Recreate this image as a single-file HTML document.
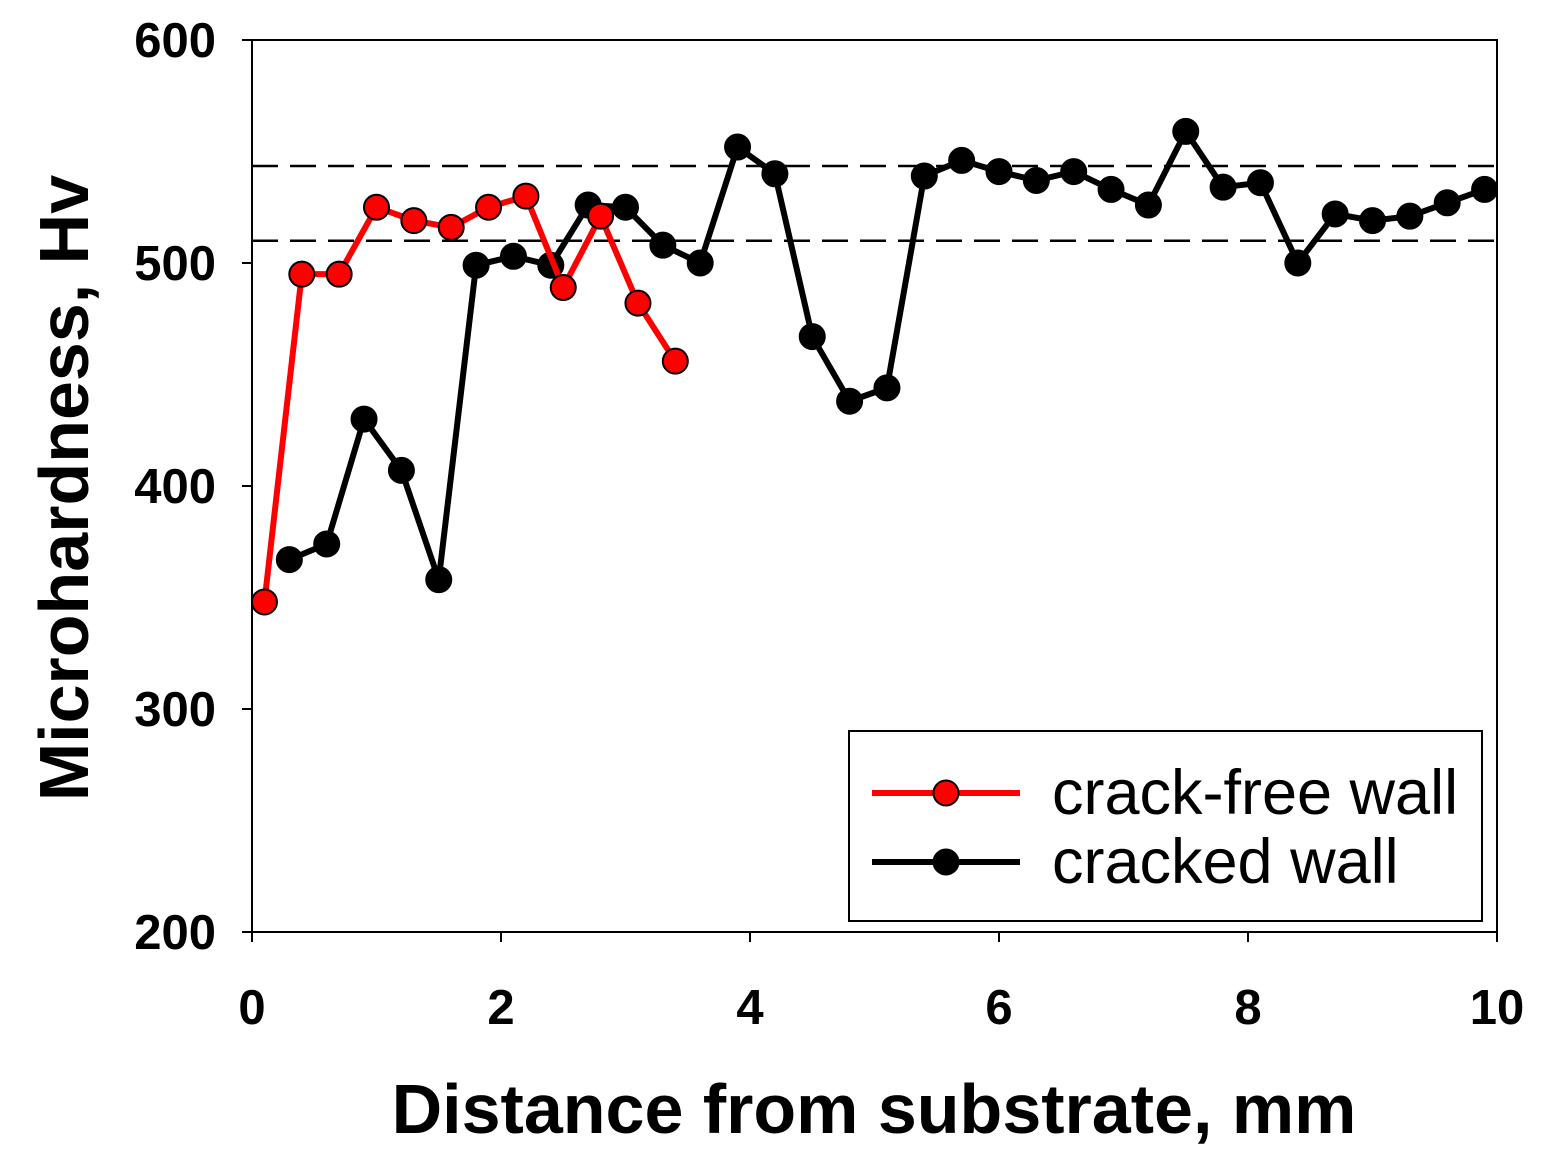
<!DOCTYPE html>
<html><head><meta charset="utf-8"><style>
html,body{margin:0;padding:0;background:#fff}
svg{display:block}
text{font-family:"Liberation Sans",Arial,sans-serif}
</style></head><body>
<svg id="chart" width="1550" height="1164" viewBox="0 0 1550 1164">
<g id="plot"></g>
</svg>
<script>
const xTicks=[0,2,4,6,8,10];
const yTicks=[200,300,400,500,600];
const redX=[0.1,0.4,0.7,1.0,1.3,1.6,1.9,2.2,2.5,2.8,3.1,3.4];
const redY=[348,495,495,525,519,516,525,530,489,521,482,456];
const blackX=[0.3,0.6,0.9,1.2,1.5,1.8,2.1,2.4,2.7,3.0,3.3,3.6,3.9,4.2,4.5,4.8,5.1,5.4,5.7,6.0,6.3,6.6,6.9,7.2,7.5,7.8,8.1,8.4,8.7,9.0,9.3,9.6,9.9];
const blackY=[367,374,430,407,358,499,503,499,526,525,508,500,552,540,467,438,444,539,546,541,537,541,533,526,559,534,536,500,522,519,521,527,533];
const refLines=[543.5,510];

const X0=252,X1=1497,Y0=932,Y1=40;
const sx=v=>X0+(v-0)/(10-0)*(X1-X0);
const sy=v=>Y0-(v-200)/(600-200)*(Y0-Y1);
const NS="http://www.w3.org/2000/svg";
const g=document.getElementById('plot');
function mk(tag,attrs,parent){const e=document.createElementNS(NS,tag);for(const k in attrs)e.setAttribute(k,attrs[k]);(parent||g).appendChild(e);return e;}

let fr=mk('rect',{x:X0,y:Y1,width:X1-X0,height:Y0-Y1,fill:'none',stroke:'#000','stroke-width':2});



refLines.forEach((v,i)=>{
 const l=mk('line',{x1:X0,x2:X1,y1:sy(v),y2:sy(v),stroke:'#000','stroke-width':2.5,'stroke-dasharray':'26,12'});
 
 
});

xTicks.forEach(v=>{
 const t=mk('line',{x1:sx(v),x2:sx(v),y1:Y0,y2:Y0+10,stroke:'#000','stroke-width':2});
 
 
 const tx=mk('text',{x:sx(v),y:Y0+92,'text-anchor':'middle','font-size':49,'font-weight':'bold'});
 tx.textContent=v;
 
 
});
yTicks.forEach(v=>{
 const t=mk('line',{x1:X0-10,x2:X0,y1:sy(v),y2:sy(v),stroke:'#000','stroke-width':2});
 
 
 const tx=mk('text',{x:X0-36,y:sy(v)+17,'text-anchor':'end','font-size':49,'font-weight':'bold'});
 tx.textContent=v;
 
 
});

function series(xs,ys,color,name){
 const pts=xs.map((x,i)=>sx(x)+','+sy(ys[i])).join(' ');
 const pl=mk('polyline',{points:pts,fill:'none',stroke:color,'stroke-width':6,'stroke-linejoin':'round'});
 
 
 xs.forEach((x,i)=>{
  const c=mk('circle',{cx:sx(x),cy:sy(ys[i]),r:12.5,fill:color,stroke:'#000','stroke-width':2});
  
  
 });
}
series(blackX,blackY,'#000','cracked-wall');
series(redX,redY,'#ff0000','crack-free-wall');

const lg=mk('g',{});


mk('rect',{x:849,y:731,width:633,height:190,fill:'#fff',stroke:'#000','stroke-width':2},lg);
[['#ff0000','crack-free wall',793],['#000','cracked wall',862]].forEach(([c,t,y])=>{
 const e=mk('g',{},lg);
 
 
 mk('line',{x1:872,x2:1020,y1:y,y2:y,stroke:c,'stroke-width':6},e);
 mk('circle',{cx:946,cy:y,r:12.5,fill:c,stroke:'#000','stroke-width':2},e);
 const tx=mk('text',{x:1052,y:y+21,'font-size':63},e);
 tx.textContent=t;
});

const xt=mk('text',{x:874,y:1133,'text-anchor':'middle','font-size':70,'font-weight':'bold'});
xt.textContent='Distance from substrate, mm';


const yt=mk('text',{x:0,y:0,'text-anchor':'middle','font-size':70,'font-weight':'bold',transform:'translate(88,488) rotate(-90)'});
yt.textContent='Microhardness, Hv';


</script>
</body></html>
